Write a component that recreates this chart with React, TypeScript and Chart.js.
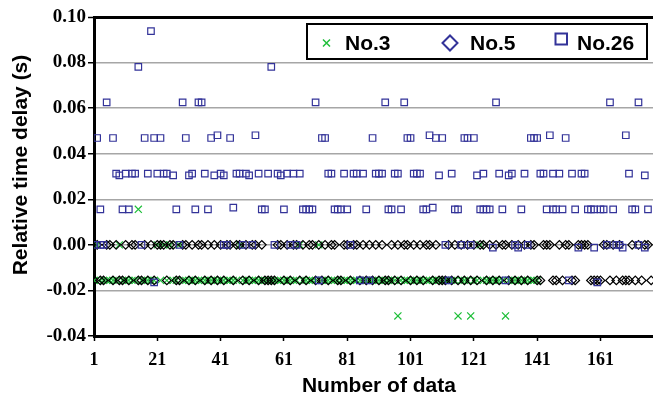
import React, { useEffect, useRef } from 'react';
import { Chart, registerables } from 'chart.js';

Chart.register(...registerables);

// ---- axis data ----
const xTickValues = [1, 21, 41, 61, 81, 101, 121, 141, 161];
const xMin = 1;
const xMax = 181;
const yMin = -0.04;
const yMax = 0.1;
const yStep = 0.02;
const xTitle = 'Number of data';
const yTitle = 'Relative time delay (s)';

const seriesNames = ['No.3', 'No.5', 'No.26'];

// ---- No.3 (green crosses), index 1..141 ----
const no3Values = [
  -0.0156, 0, -0.0156, -0.0156, -0.0156, -0.0156, -0.0156, -0.0156, 0, -0.0156,
  -0.0156, -0.0156, -0.0156, -0.0156, 0.0156, -0.0156, -0.0156, -0.0156, -0.0156, -0.0156,
  0, -0.0156, 0, -0.0156, 0, -0.0156, -0.0156, 0, -0.0156, -0.0156,
  -0.0156, -0.0156, -0.0156, -0.0156, -0.0156, -0.0156, -0.0156, -0.0156, -0.0156, -0.0156,
  -0.0156, -0.0156, -0.0156, -0.0156, -0.0156, -0.0156, 0, -0.0156, -0.0156, -0.0156,
  -0.0156, -0.0156, -0.0156, -0.0156, -0.0156, -0.0156, -0.0156, -0.0156, -0.0156, -0.0156,
  -0.0156, -0.0156, -0.0156, -0.0156, -0.0156, 0, -0.0156, -0.0156, -0.0156, -0.0156,
  -0.0156, 0, -0.0156, -0.0156, -0.0156, -0.0156, -0.0156, -0.0156, -0.0156, -0.0156,
  -0.0156, -0.0156, -0.0156, -0.0156, -0.0156, -0.0156, -0.0156, -0.0156, -0.0156, -0.0156,
  -0.0156, -0.0156, -0.0156, -0.0156, -0.0156, -0.0156, -0.0312, -0.0156, -0.0156, -0.0156,
  -0.0156, -0.0156, -0.0156, -0.0156, -0.0156, -0.0156, -0.0156, -0.0156, -0.0156, -0.0156,
  -0.0156, -0.0156, -0.0156, -0.0156, -0.0156, -0.0312, -0.0156, -0.0156, -0.0156, -0.0312,
  -0.0156, -0.0156, 0, -0.0156, -0.0156, -0.0156, -0.0156, -0.0156, -0.0156, -0.0156,
  -0.0312, -0.0156, -0.0156, -0.0156, -0.0156, -0.0156, -0.0156, -0.0156, -0.0156, -0.0156,
  -0.0156,
];

// ---- No.5 (diamonds), index 1..177 ----
const no5Values = [
  -0.0156, 0, -0.0156, -0.0156, 0, 0, -0.0156, 0, -0.0156, -0.0156,
  0, -0.0156, 0, 0, -0.0156, -0.0156, 0, -0.0156, 0, -0.0156,
  0, 0, 0, -0.0156, 0, 0, -0.0156, -0.0156, 0, 0,
  -0.0156, 0, -0.0156, 0, 0, -0.0156, 0, -0.0156, 0, -0.0156,
  0, -0.0156, 0, 0, -0.0156, 0, 0, -0.0156, 0, -0.0156,
  0, 0, -0.0156, 0, -0.0156, -0.0156, -0.0156, -0.0156, 0, 0,
  -0.0156, 0, -0.0156, 0, 0, -0.0156, 0, -0.0156, 0, 0,
  -0.0156, 0, -0.0156, 0, -0.0156, 0, 0, -0.0156, -0.0156, 0,
  0, -0.0156, 0, 0, -0.0156, 0, -0.0156, 0, -0.0156, 0,
  -0.0156, 0, -0.0156, -0.0156, 0, -0.0156, 0, -0.0156, 0, 0,
  -0.0156, 0, -0.0156, 0, -0.0156, 0, 0, -0.0156, 0, -0.0156,
  -0.0156, -0.0156, 0, -0.0156, 0, -0.0156, 0, -0.0156, 0, -0.0156,
  0, -0.0156, 0, 0, -0.0156, 0, -0.0156, 0, -0.0156, 0,
  0, -0.0156, 0, -0.0156, 0, -0.0156, 0, -0.0156, 0, 0,
  -0.0156, -0.0156, 0, 0, 0, -0.0156, -0.0156, 0, -0.0156, 0,
  0, -0.0156, -0.0156, 0, 0, 0, 0, -0.0156, -0.0156, -0.0156,
  -0.0156, 0, 0, -0.0156, 0, -0.0156, 0, -0.0156, -0.0156, -0.0156,
  0, -0.0156, 0, -0.0156, 0, 0, -0.0156,
];

// ---- No.26 (squares) ----
const no26X = [
  1, 2, 3, 3, 4, 5, 7, 8, 9, 10,
  11, 12, 13, 14, 15, 16, 17, 18, 19, 20,
  20, 21, 22, 23, 24, 26, 27, 28, 29, 30,
  31, 32, 33, 34, 35, 36, 37, 38, 39, 40,
  41, 42, 42, 43, 44, 45, 46, 47, 48, 49,
  50, 51, 52, 53, 54, 55, 56, 57, 58, 59,
  60, 61, 62, 63, 64, 65, 66, 67, 68, 69,
  70, 71, 72, 73, 74, 75, 76, 77, 78, 79,
  80, 81, 82, 83, 84, 85, 86, 87, 88, 89,
  90, 91, 92, 93, 94, 95, 96, 97, 98, 99,
  100, 101, 102, 103, 104, 105, 106, 107, 108, 109,
  110, 111, 112, 113, 114, 115, 116, 117, 118, 119,
  120, 121, 122, 123, 124, 124, 125, 126, 127, 128,
  129, 130, 131, 132, 133, 134, 135, 136, 137, 138,
  139, 140, 141, 142, 143, 144, 145, 146, 146, 147,
  148, 149, 150, 151, 152, 153, 154, 155, 156, 157,
  158, 159, 159, 160, 161, 162, 163, 164, 165, 166,
  167, 168, 169, 170, 171, 172, 173, 173, 175, 175,
  176,
];
const no26Y = [
  0, 0.0469, 0, 0.0156, 0, 0.0625, 0.0469, 0.0313, 0.0305, 0.0156,
  0.0313, 0.0156, 0.0313, 0.0313, 0.0781, 0, 0.0469, 0.0313, 0.0938, -0.0165,
  0.0469, 0.0313, 0.0469, 0.0313, 0.0313, 0.0305, 0.0156, 0, 0.0625, 0.0469,
  0.0305, 0.0313, 0.0156, 0.0625, 0.0625, 0.0313, 0.0156, 0.0469, 0.0305, 0.0481,
  0.0313, 0.0305, 0, 0, 0.0469, 0.0163, 0.0313, 0.0313, 0, 0.0313,
  0.0305, 0, 0.0481, 0.0313, 0.0156, 0.0156, 0.0313, 0.0781, 0, 0.0313,
  0.0305, 0.0156, 0.0313, 0, 0.0313, 0, 0.0313, 0.0156, 0.0156, 0.0156,
  0.0156, 0.0625, -0.0156, 0.0469, 0.0469, 0.0313, 0.0313, 0.0156, 0.0156, 0.0156,
  0.0313, 0.0156, 0, 0.0313, 0.0313, -0.0156, 0.0313, 0.0156, -0.0156, 0.0469,
  0.0313, 0.0313, 0.0313, 0.0625, 0.0156, 0.0156, 0.0313, 0.0313, 0.0156, 0.0625,
  0.0469, 0.0469, 0.0313, 0.0313, 0.0313, 0.0156, 0.0156, 0.0481, 0.0163, 0.0469,
  0.0305, 0.0469, 0, -0.0156, 0.0313, 0.0156, 0.0156, 0, 0.0469, 0.0469,
  0, 0.0469, 0.0305, 0.0156, 0.0156, 0.0313, 0.0156, 0.0156, -0.0012, 0.0625,
  0.0313, 0.0156, -0.0156, 0.0305, 0.0313, 0, -0.0012, 0.0156, 0.0313, 0,
  0.0469, 0.0469, 0.0469, 0.0313, 0.0313, 0.0156, 0.0481, 0.0313, 0.0156, 0.0156,
  0.0313, 0.0156, 0.0469, -0.0156, 0.0313, 0.0156, -0.0012, 0.0313, 0.0313, 0.0156,
  0.0156, 0.0156, -0.0012, -0.0165, 0.0156, 0.0156, 0, 0.0625, 0.0156, 0,
  0, -0.0012, 0.0481, 0.0313, 0.0156, 0.0156, 0.0625, 0, 0.0305, -0.0012,
  0.0156,
];

const GREEN = '#1fbf3a';
const NAVY = '#333399';
const SANS = '"Liberation Sans", Arial, Helvetica, sans-serif';
const SERIF = '"Liberation Serif", "Times New Roman", Times, serif';

const boxLegend = {
  id: 'boxLegend',
  afterDraw(chart: any) {
    const ctx = chart.ctx as CanvasRenderingContext2D;
    const ds = chart.data.datasets;
    const bx = 307, by = 24, bw = 340, bh = 35;
    ctx.save();
    ctx.fillStyle = '#ffffff';
    ctx.fillRect(bx, by, bw, bh);
    ctx.lineWidth = 2;
    ctx.strokeStyle = '#000000';
    ctx.strokeRect(bx, by, bw, bh);

    // No.3 marker: cross
    ctx.strokeStyle = GREEN;
    ctx.lineWidth = 1.5;
    ctx.beginPath();
    ctx.moveTo(323, 39.5); ctx.lineTo(330, 46.5);
    ctx.moveTo(330, 39.5); ctx.lineTo(323, 46.5);
    ctx.stroke();

    // No.5 marker: diamond
    ctx.strokeStyle = NAVY;
    ctx.lineWidth = 2;
    ctx.beginPath();
    ctx.moveTo(442.5, 43); ctx.lineTo(450, 35.5); ctx.lineTo(457.5, 43); ctx.lineTo(450, 50.5);
    ctx.closePath();
    ctx.stroke();

    // No.26 marker: square
    ctx.strokeRect(555.5, 33.5, 11.5, 11);

    ctx.fillStyle = '#000000';
    ctx.font = 'bold 21px ' + SANS;
    ctx.textAlign = 'left';
    ctx.textBaseline = 'alphabetic';
    ctx.fillText(ds[0].label, 345, 50);
    ctx.fillText(ds[1].label, 470, 50);
    ctx.fillText(ds[2].label, 577, 50);
    ctx.restore();
  },
};

// vertical axis title, placed where the original has it
const yTitlePlugin = {
  id: 'yTitle',
  afterDraw(chart: any) {
    const ctx = chart.ctx as CanvasRenderingContext2D;
    ctx.save();
    ctx.translate(21, 165);
    ctx.rotate(-Math.PI / 2);
    ctx.fillStyle = '#000000';
    ctx.font = 'bold 21px ' + SANS;
    ctx.textAlign = 'center';
    ctx.textBaseline = 'middle';
    ctx.fillText(yTitle, 0, 0);
    ctx.restore();
  },
};

export default function App() {
  const canvasRef = useRef<HTMLCanvasElement | null>(null);

  useEffect(() => {
    const canvas = canvasRef.current;
    if (!canvas) return;
    const chart = new Chart(canvas, {
      type: 'scatter',
      data: {
        datasets: [
          {
            label: seriesNames[0],
            data: no3Values.map((y, i) => ({ x: i + 1, y })),
            pointStyle: 'crossRot',
            pointRadius: 5,
            borderColor: GREEN,
            backgroundColor: 'transparent',
            pointBorderWidth: 1.2,
            showLine: false,
            order: 2,
          },
          {
            label: seriesNames[1],
            data: no5Values.map((y, i) => ({ x: i + 1, y })),
            pointStyle: 'rectRot',
            pointRadius: 4.3,
            borderColor: '#000000',
            backgroundColor: 'transparent',
            pointBorderWidth: 1.3,
            showLine: false,
            order: 1,
          },
          {
            label: seriesNames[2],
            data: no26X.map((x, i) => ({ x, y: no26Y[i] })),
            pointStyle: 'rect',
            pointRadius: 4.6,
            borderColor: NAVY,
            backgroundColor: 'transparent',
            pointBorderWidth: 1.2,
            showLine: false,
            order: 0,
          },
        ],
      },
      options: {
        animation: false,
        responsive: false,
        maintainAspectRatio: false,
        events: [],
        layout: { padding: { left: 0, top: 17, right: 4, bottom: 0 } },
        plugins: {
          legend: { display: false },
          tooltip: { enabled: false },
        },
        scales: {
          x: {
            type: 'linear',
            min: xMin,
            max: xMax,
            afterBuildTicks: (scale: any) => {
              scale.ticks = xTickValues.map((value) => ({ value }));
            },
            afterFit: (scale: any) => {
              scale.height = 64;
            },
            ticks: {
              autoSkip: false,
              maxRotation: 0,
              padding: 9,
              color: '#000',
              font: { family: SERIF, size: 18, weight: 'bold' },
              callback: (v: any) => String(v),
            },
            grid: {
              display: true,
              drawOnChartArea: false,
              drawTicks: true,
              tickLength: 5,
              tickColor: '#000',
              tickWidth: 1.5,
            },
            border: { display: true, color: '#000', width: 3 },
            title: {
              display: true,
              text: xTitle,
              color: '#000',
              font: { family: SANS, size: 21, weight: 'bold' },
              padding: { top: 0, bottom: 1 },
            },
          },
          y: {
            type: 'linear',
            min: yMin,
            max: yMax,
            afterFit: (scale: any) => {
              scale.width = 94;
            },
            ticks: {
              stepSize: yStep,
              padding: 2,
              color: '#000',
              font: { family: SERIF, size: 19, weight: 'bold' },
              callback: (v: any) => (Math.abs(v) < 1e-9 ? '0.00' : Number(v).toFixed(2)),
            },
            grid: {
              color: (c: any) => (c.tick && Math.abs(c.tick.value - yMax) < 1e-9 ? '#000' : '#a6a6a6'),
              lineWidth: (c: any) => (c.tick && Math.abs(c.tick.value - yMax) < 1e-9 ? 3 : 1.5),
              drawTicks: true,
              tickLength: 6,
              tickColor: '#000',
              tickWidth: 1.5,
            },
            border: { display: true, color: '#000', width: 3 },
            title: { display: false },
          },
        },
      },
      plugins: [boxLegend, yTitlePlugin],
    } as any);
    return () => chart.destroy();
  }, []);

  return (
    <div
      style={{
        position: 'fixed',
        left: 0,
        top: 0,
        width: 653,
        height: 396,
        overflow: 'hidden',
        background: '#ffffff',
      }}
    >
      <canvas ref={canvasRef} width={670} height={400} style={{ display: 'block' }} />
    </div>
  );
}
